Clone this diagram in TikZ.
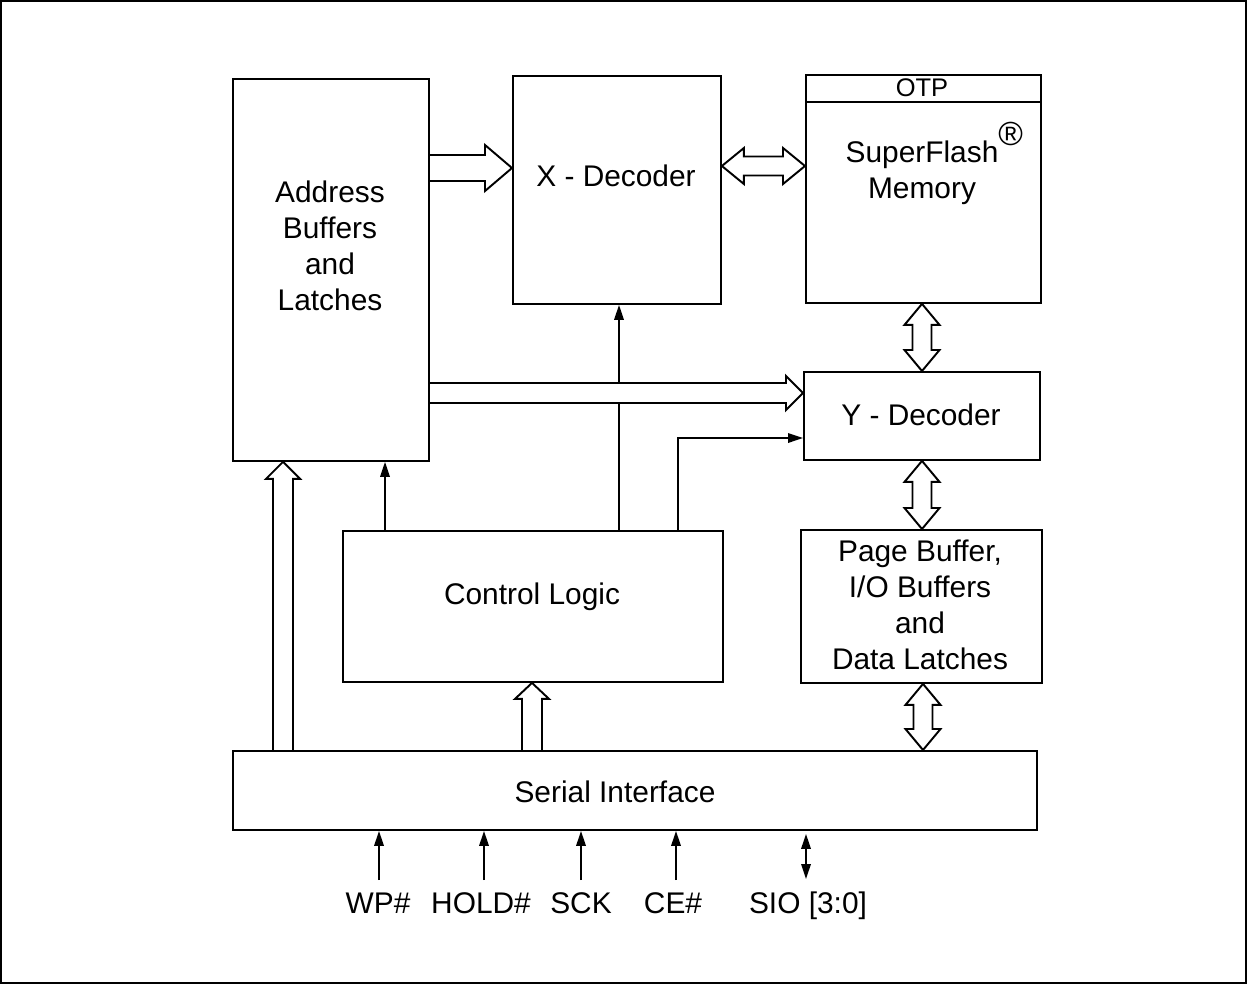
\documentclass[tikz,border=0pt]{standalone}
\usepackage{fontspec}
\setmainfont{Liberation Sans}
\usetikzlibrary{arrows.meta,calc,backgrounds}

% Wide hollow arrows: #1 start, #2 end, #3 shaft half-width, #4 head half-width, #5 head length
\newcommand\fatright[5]{%
  \path[fat] let \p1=(#1), \p2=(#2) in
    (\x1,{\y1+#3}) -- ({\x2-#5},{\y1+#3}) -- ({\x2-#5},{\y1+#4}) -- (\x2,\y1)
    -- ({\x2-#5},{\y1-#4}) -- ({\x2-#5},{\y1-#3}) -- (\x1,{\y1-#3});}
\newcommand\fatup[5]{%
  \path[fat] let \p1=(#1), \p2=(#2) in
    ({\x1-#3},\y1) -- ({\x1-#3},{\y2-#5}) -- ({\x1-#4},{\y2-#5}) -- (\x1,\y2)
    -- ({\x1+#4},{\y2-#5}) -- ({\x1+#3},{\y2-#5}) -- ({\x1+#3},\y1);}
\newcommand\fatboth[5]{%
  \path[fat] let \p1=(#1), \p2=(#2) in
    (\x1,\y1) -- ({\x1+#5},{\y1+#4}) -- ({\x1+#5},{\y1+#3}) -- ({\x2-#5},{\y1+#3})
    -- ({\x2-#5},{\y1+#4}) -- (\x2,\y1) -- ({\x2-#5},{\y1-#4}) -- ({\x2-#5},{\y1-#3})
    -- ({\x1+#5},{\y1-#3}) -- ({\x1+#5},{\y1-#4}) -- cycle;}
\newcommand\fatvert[5]{%
  \path[fat] let \p1=(#1), \p2=(#2) in
    (\x1,\y1) -- ({\x1+#4},{\y1-#5}) -- ({\x1+#3},{\y1-#5}) -- ({\x1+#3},{\y2+#5})
    -- ({\x1+#4},{\y2+#5}) -- (\x1,\y2) -- ({\x1-#4},{\y2+#5}) -- ({\x1-#3},{\y2+#5})
    -- ({\x1-#3},{\y1-#5}) -- ({\x1-#4},{\y1-#5}) -- cycle;}

\tikzset{
  box/.style={draw, line width=1.1pt, rectangle, inner sep=0pt, anchor=north west},
  lbl/.style={font=\fontsize{17}{20.5}\selectfont, align=center, inner sep=0pt},
  pin/.style={lbl, anchor=base},
  fat/.style={draw, line width=1.1pt, line join=miter, fill=white},
  tip/.tip={Triangle[length=0.3cm,width=0.19cm]},
  sig/.style={line width=1pt, -tip},
  sigboth/.style={line width=1pt, tip-tip},
}

\begin{document}
\begin{tikzpicture}[x=0.02cm, y=-0.02cm]
  \useasboundingbox (0,0) rectangle (1247,984);
  \draw[line width=1.2pt] (1,1) rectangle (1246,983);

  % blocks
  \node[box, minimum width=3.92cm, minimum height=7.64cm] (addr) at (232,78) {};
  \node[box, minimum width=4.16cm, minimum height=4.56cm] (xdec) at (512,75) {};
  \node[box, minimum width=4.70cm, minimum height=4.56cm] (mem)  at (805,74) {};
  \node[box, minimum width=4.72cm, minimum height=1.76cm] (ydec) at (803,371) {};
  \node[box, minimum width=4.82cm, minimum height=3.06cm] (pbuf) at (800,529) {};
  \node[box, minimum width=7.60cm, minimum height=3.02cm] (ctrl) at (342,530) {};
  \node[box, minimum width=16.08cm, minimum height=1.58cm] (ser) at (232,750) {};
  \draw[line width=1.1pt] (mem.west |- 0,102) -- (mem.east |- 0,102);

  % block texts
  \node[lbl] (addrT) at (330,246) {Address\\Buffers\\and\\Latches};
  \node[lbl] (xdecT) at (616,176) {X - Decoder};
  \node[lbl, font=\fontsize{14.5}{16}\selectfont] (otpT) at (922,88) {OTP};
  \node[lbl] (memT) at (922,173) {SuperFlash\rlap{\smash{\raisebox{0.58em}{\fontsize{19}{19}\selectfont\textregistered}}}\\Memory};
  \node[lbl] (ydecT) at (921,415) {Y - Decoder};
  \node[lbl] (pbufT) at (920,605) {Page Buffer,\\I/O Buffers\\and\\Data Latches};
  \node[lbl] (ctrlT) at (532,597) {Control Logic};
  \node[lbl] (serT) at (615,792) {Serial Interface};

  % pin labels
  \node[pin] (wp)   at (378,913) {WP\#};
  \node[pin] (hold) at (481,913) {HOLD\#};
  \node[pin] (sck)  at (581,913) {SCK};
  \node[pin] (ce)   at (673,913) {CE\#};
  \node[pin] (sio)  at (808,913) {SIO [3:0]};

  \coordinate (wpin)   at (379,880);
  \coordinate (holdin) at (484,880);
  \coordinate (sckin)  at (581,880);
  \coordinate (cein)   at (676,880);
  \coordinate (sioin)  at (806,879);

  \begin{scope}[on background layer]
    % control lines
    \draw[sig] (ctrl.north -| 385,0) -- (addr.south -| 385,0);
    \draw[sig] (ctrl.north -| 619,0) -- (xdec.south -| 619,0);
    \draw[sig] (ctrl.north -| 678,0) |- (ydec.west |- 0,438);

    % wide buses
    \fatright{addr.east |- 0,168}{xdec.west |- 0,168}{0.26cm}{0.46cm}{0.54cm}
    \fatright{addr.east |- 0,393}{ydec.west |- 0,393}{0.2cm}{0.34cm}{0.34cm}
    \fatboth{xdec.east |- 0,166}{mem.west |- 0,166}{0.19cm}{0.36cm}{0.44cm}
    \fatvert{mem.south -| 922,0}{ydec.north -| 922,0}{0.19cm}{0.35cm}{0.42cm}
    \fatvert{ydec.south -| 922,0}{pbuf.north -| 922,0}{0.19cm}{0.35cm}{0.42cm}
    \fatvert{pbuf.south -| 923,0}{ser.north -| 923,0}{0.19cm}{0.35cm}{0.42cm}
    \fatup{ser.north -| 283,0}{addr.south -| 283,0}{0.2cm}{0.34cm}{0.34cm}
    \fatup{ser.north -| 532,0}{ctrl.south -| 532,0}{0.2cm}{0.34cm}{0.32cm}
  \end{scope}

  % pins
  \draw[sig] (wpin) -- (wpin |- ser.south);
  \draw[sig] (holdin) -- (holdin |- ser.south);
  \draw[sig] (sckin) -- (sckin |- ser.south);
  \draw[sig] (cein) -- (cein |- ser.south);
  \draw[sigboth] (sioin) -- ($(sioin |- ser.south)+(0,3)$);
\end{tikzpicture}
\end{document}
